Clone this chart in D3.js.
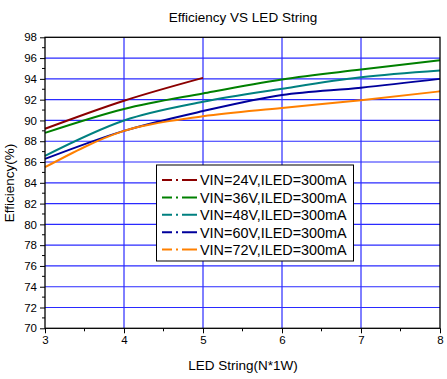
<!DOCTYPE html>
<html><head><meta charset="utf-8">
<script src="https://cdn.jsdelivr.net/npm/d3@7"></script>
<style>body{margin:0;background:#fff}svg{display:block}text{font-family:"Liberation Sans",Arial,sans-serif;fill:#000}</style>
</head><body>
<script>
const title = "Efficiency VS LED String";
const xLabel = "LED String(N*1W)";
const yLabel = "Efficiency(%)";
const xTicks = [3,4,5,6,7,8];
const yTicks = [70,72,74,76,78,80,82,84,86,88,90,92,94,96,98];
const seriesNames = ["VIN=24V,ILED=300mA","VIN=36V,ILED=300mA","VIN=48V,ILED=300mA","VIN=60V,ILED=300mA","VIN=72V,ILED=300mA"];
const seriesColors = ["#8b0000","#008000","#008080","#00009c","#ff8000"];
const xs24 = [3,4,5];
const v24 = [89.2, 91.9, 94.1];
const xsAll = [3,4,5,6,7,8];
const v36 = [88.8, 91.1, 92.6, 93.95, 94.9, 95.8];
const v48 = [86.6, 90.0, 91.8, 93.05, 94.15, 94.8];
const v60 = [86.3, 89.0, 90.9, 92.45, 93.15, 94.0];
const v72 = [85.5, 89.0, 90.4, 91.2, 91.95, 92.8];

const W=447,H=379;
const m={l:45,r:7,t:37.3,b:50.7};
const svg=d3.select("body").append("svg").attr("width",W).attr("height",H);
const x=d3.scaleLinear().domain([3,8]).range([m.l,W-m.r]);
const y=d3.scaleLinear().domain([70,98]).range([H-m.b,m.t]);

// grid
const g=svg.append("g");
g.selectAll(".gx").data(xTicks.filter(d=>d>3&&d<8)).join("line")
 .attr("x1",d=>x(d)).attr("x2",d=>x(d)).attr("y1",y(98)).attr("y2",y(70))
 .attr("stroke","#0000ff").attr("stroke-width",1);
g.selectAll(".gy").data(yTicks.filter(d=>d>70&&d<98)).join("line")
 .attr("x1",x(3)).attr("x2",x(8)).attr("y1",d=>y(d)).attr("y2",d=>y(d))
 .attr("stroke","#2a2aff").attr("stroke-width",1.2);

// lines
const line=d3.line().x(d=>x(d[0])).y(d=>y(d[1])).curve(d3.curveMonotoneX);
const series=[
 xs24.map((d,i)=>[d,v24[i]]),
 xsAll.map((d,i)=>[d,v36[i]]),
 xsAll.map((d,i)=>[d,v48[i]]),
 xsAll.map((d,i)=>[d,v60[i]]),
 xsAll.map((d,i)=>[d,v72[i]])
];
svg.append("g").selectAll("path").data(series).join("path")
 .attr("d",line).attr("fill","none").attr("stroke",(d,i)=>seriesColors[i]).attr("stroke-width",2);

// frame
svg.append("rect").attr("x",x(3)).attr("y",y(98)).attr("width",x(8)-x(3)).attr("height",y(70)-y(98))
 .attr("fill","none").attr("stroke","#000").attr("stroke-width",1.3);

// axes
const yAxis=d3.axisLeft(y).tickValues(yTicks).tickSize(5).tickPadding(3);
const ya=svg.append("g").attr("transform",`translate(${x(3)},0)`).call(yAxis);
ya.select(".domain").remove();
ya.selectAll("text").style("font-size","11.5px").attr("font-family","Liberation Sans, Arial");
const yMinor=d3.range(71,98,2);
svg.append("g").selectAll("line").data(yMinor).join("line")
 .attr("x1",x(3)-3).attr("x2",x(3)).attr("y1",d=>y(d)).attr("y2",d=>y(d)).attr("stroke","#000");
const xAxis=d3.axisBottom(x).tickValues(xTicks).tickSize(5).tickPadding(3).tickFormat(d3.format("d"));
const xa=svg.append("g").attr("transform",`translate(0,${y(70)})`).call(xAxis);
xa.select(".domain").remove();
xa.selectAll("text").style("font-size","11.5px").attr("font-family","Liberation Sans, Arial");
const xMinor=[3.5,4.5,5.5,6.5,7.5];
svg.append("g").selectAll("line").data(xMinor).join("line")
 .attr("x1",d=>x(d)).attr("x2",d=>x(d)).attr("y1",y(70)).attr("y2",y(70)+3).attr("stroke","#000");

// title and labels
svg.append("text").attr("x",243).attr("y",22).attr("text-anchor","middle").style("font-size","13.5px").text(title);
svg.append("text").attr("x",243).attr("y",370).attr("text-anchor","middle").style("font-size","13.5px").text(xLabel);
svg.append("text").attr("transform","translate(14,183) rotate(-90)").attr("text-anchor","middle").style("font-size","13.5px").text(yLabel);

// legend
const lg=svg.append("g");
lg.append("rect").attr("x",156.5).attr("y",165).attr("width",197).attr("height",96)
 .attr("fill","#fff").attr("stroke","#000").attr("stroke-width",1);
seriesNames.forEach((n,i)=>{
  const yy=180+i*17.4;
  lg.append("line").attr("x1",162).attr("x2",197).attr("y1",yy).attr("y2",yy)
    .attr("stroke",seriesColors[i]).attr("stroke-width",2).attr("stroke-dasharray","10,4,2,4,15");
  lg.append("text").attr("x",200).attr("y",yy+5.3).style("font-size","14.4px").text(n);
});
</script>
</body></html>
